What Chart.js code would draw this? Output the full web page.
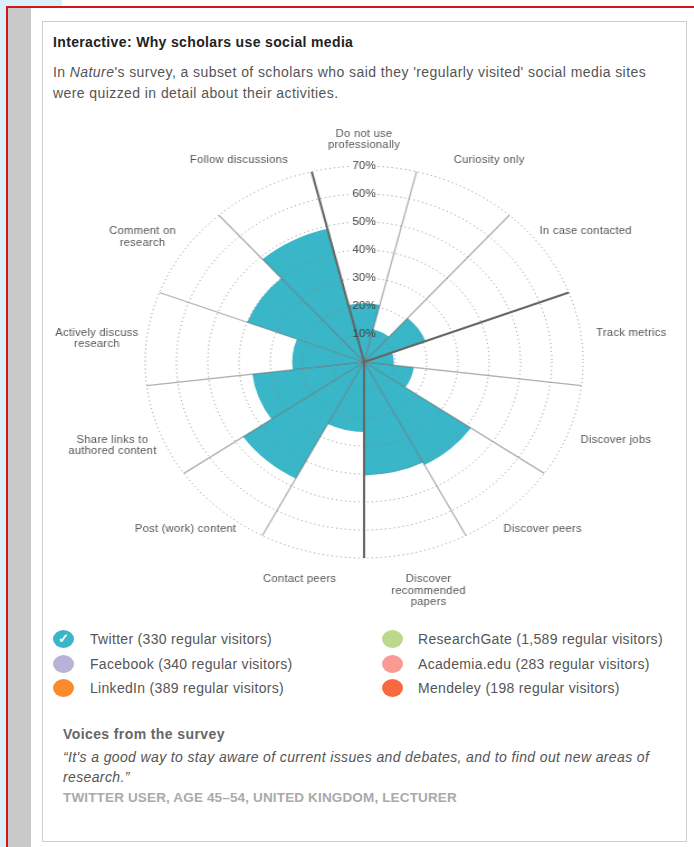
<!DOCTYPE html>
<html lang="en">
<head>
  <meta charset="UTF-8" />
  <title>Why scholars use social media</title>
  <script src="https://cdn.jsdelivr.net/npm/chart.js"></script>
  <style>
    * { margin: 0; padding: 0; box-sizing: border-box; }
    html, body { width: 694px; height: 847px; overflow: hidden; background: #fff; }
    body { position: relative; font-family: 'Liberation Sans', Arial, sans-serif; color: #555; }
    .sky { position: absolute; left: 0; top: 0; width: 62px; height: 847px; background: #d9f0fa; }
    .sky-cut { position: absolute; left: 6px; top: 6px; width: 688px; height: 841px; background: #fff; }
    .frame { position: absolute; left: 6px; top: 6px; width: 700px; height: 860px; border: 2px solid #d5141c; }
    .side { position: absolute; left: 8px; top: 8px; width: 23px; height: 839px; background: #c9c9c9; }
    .card { position: absolute; left: 42px; top: 21px; width: 645px; height: 821px; border: 1px solid #cdcdd4; }
    .txt { position: absolute; white-space: nowrap; font-size: 14px; line-height: 20px; }
    #chart-wrap { position: absolute; left: 29px; top: 112px; width: 600px; height: 500px; transform: scaleX(1.117); transform-origin: 0 0; }
    .dot { position: absolute; width: 21px; height: 18px; border-radius: 50%; }
    .tick { position: absolute; left: 5px; top: 2px; width: 10px; height: 13px; color: #fff; font-size: 13px; line-height: 14px; font-weight: bold; text-align: center; }
  </style>
</head>
<body>
  <div class="sky"></div>
  <div class="sky-cut"></div>
  <div class="side"></div>
  <div class="frame"></div>
  <div class="card"></div>

  <div class="txt" style="left:53px;top:32px;font-weight:bold;color:#222;letter-spacing:.35px">Interactive: Why scholars use social media</div>
  <div class="txt" style="left:53px;top:62px;letter-spacing:.42px">In <i>Nature</i>'s survey, a subset of scholars who said they 'regularly visited' social media sites</div>
  <div class="txt" style="left:53px;top:83px;letter-spacing:.42px">were quizzed in detail about their activities.</div>

  <div id="chart-wrap"><canvas id="roseChart" width="600" height="500"></canvas></div>

  <div id="legend"></div>

  <div class="txt" style="left:63px;top:724px;font-weight:bold;color:#666;letter-spacing:.4px">Voices from the survey</div>
  <div class="txt" style="left:63px;top:747px;font-style:italic;letter-spacing:.37px">“It's a good way to stay aware of current issues and debates, and to find out new areas of</div>
  <div class="txt" style="left:63px;top:767px;font-style:italic;letter-spacing:.37px">research.”</div>
  <div class="txt" style="left:63px;top:788px;font-weight:bold;color:#aaa;font-size:13.5px;letter-spacing:.15px">TWITTER USER, AGE 45–54, UNITED KINGDOM, LECTURER</div>

  <script>
    const categories = [
      ['Do not use', 'professionally'],
      ['Curiosity only'],
      ['In case contacted'],
      ['Track metrics'],
      ['Discover jobs'],
      ['Discover peers'],
      ['Discover', 'recommended', 'papers'],
      ['Contact peers'],
      ['Post (work) content'],
      ['Share links to', 'authored content'],
      ['Actively discuss', 'research'],
      ['Comment on', 'research'],
      ['Follow discussions']
    ];
    const twitterValues = [21, 12, 21, 9.5, 16, 41.5, 40.5, 25, 47, 36, 23, 40, 49];
    const darkSpokes = [0, 3, 7];
    const networks = ['Twitter', 'Facebook', 'LinkedIn', 'ResearchGate', 'Academia.edu', 'Mendeley'];
    const visitors = ['330', '340', '389', '1,589', '283', '198'];
    const networkColors = ['#39b6c8', '#b9b1d8', '#fb8a2c', '#bbd98b', '#f99a94', '#f9693f'];

    // legend, two columns of three
    const legend = document.getElementById('legend');
    networks.forEach((name, i) => {
      const col = i < 3 ? 0 : 1;
      const row = i % 3;
      const top = 630 + row * 24.6;
      const dot = document.createElement('div');
      dot.className = 'dot';
      dot.style.left = (col ? 382 : 53) + 'px';
      dot.style.top = top + 'px';
      dot.style.background = networkColors[i];
      if (i === 0) dot.innerHTML = '<div class="tick">✓</div>';
      legend.appendChild(dot);
      const label = document.createElement('div');
      label.className = 'txt';
      label.style.left = (col ? 418 : 90) + 'px';
      label.style.top = (top - 1) + 'px';
      label.style.letterSpacing = '.31px';
      label.textContent = name + ' (' + visitors[i] + ' regular visitors)';
      legend.appendChild(label);
    });

    // category names and % labels: pointLabels and the built-in ticks both follow
    // startAngle, the reference keeps % upright at 12 o'clock and names centred off each sector
    const sectorLabels = {
      id: 'sectorLabels',
      afterDraw(chart) {
        const scale = chart.scales.r;
        const ctx = chart.ctx;
        const half = Math.PI / categories.length;
        ctx.save();
        ctx.textAlign = 'center';
        ctx.textBaseline = 'middle';

        ctx.font = '10.5px "Liberation Sans", Arial, sans-serif';
        scale.ticks.forEach(tick => {
          if (tick.value === 0) return;
          const y = scale.yCenter - scale.getDistanceFromCenterForValue(tick.value);
          const text = tick.value + '%';
          if (tick.value > 20) {
            ctx.fillStyle = '#fff';
            ctx.fillRect(scale.xCenter - 12, y - 5, 24, 10);
          }
          ctx.fillStyle = '#444';
          ctx.fillText(text, scale.xCenter, y);
        });

        ctx.font = '10px "Liberation Sans", Arial, sans-serif';
        ctx.fillStyle = '#555';
        ctx.letterSpacing = '0.25px';
        categories.forEach((lines, i) => {
          const x = scale.getPointPosition(i, scale.drawingArea + 45, half).x;
          const y = scale.getPointPosition(i, scale.drawingArea + 30, half).y - 2;
          lines.forEach((line, n) => {
            ctx.fillText(line, x, y + n * 11.5);
          });
        });
        ctx.restore();
      }
    };

    new Chart(document.getElementById('roseChart'), {
      type: 'polarArea',
      data: {
        labels: categories,
        datasets: [{
          label: 'Twitter',
          data: twitterValues,
          backgroundColor: '#39b6c8',
          borderWidth: 0
        }]
      },
      options: {
        responsive: false,
        animation: false,
        layout: { padding: { top: 54, bottom: 54, left: 0, right: 0 } },
        plugins: { legend: { display: false }, tooltip: { enabled: false } },
        scales: {
          r: {
            min: 0,
            max: 70,
            startAngle: -180 / categories.length,
            angleLines: {
              display: true,
              color: ctx => darkSpokes.includes(ctx.index) ? '#666' : 'rgba(100,100,100,0.5)',
              lineWidth: ctx => darkSpokes.includes(ctx.index) ? 2 : 1.3
            },
            grid: { circular: true, color: '#888', lineWidth: 1, z: 1 },
            border: { dash: [1, 3] },
            pointLabels: { display: false },
            ticks: { display: false, stepSize: 10 }
          }
        }
      },
      plugins: [sectorLabels]
    });
  </script>
</body>
</html>
